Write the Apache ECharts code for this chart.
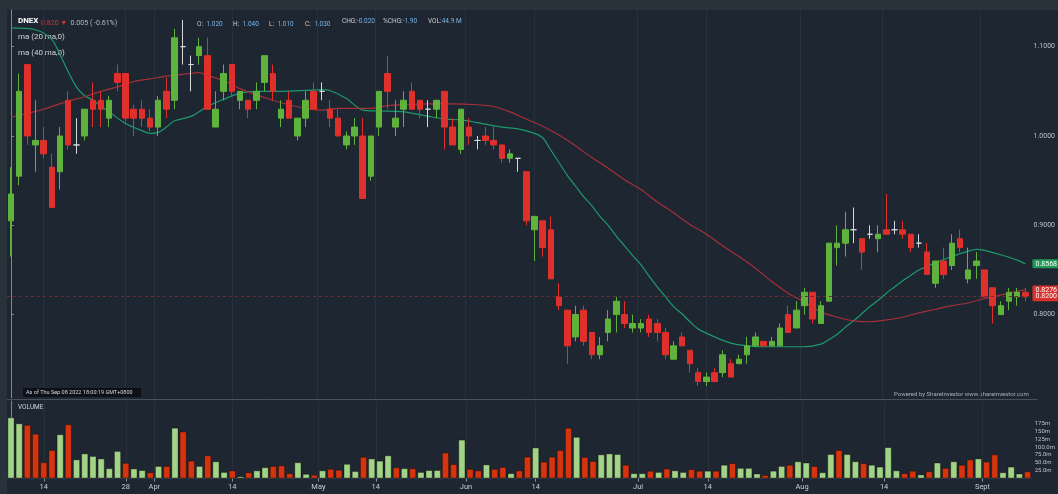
<!DOCTYPE html>
<html>
<head>
<meta charset="utf-8">
<title>DNEX</title>
<script src="https://cdn.jsdelivr.net/npm/echarts@6/dist/echarts.min.js"></script>
<style>
html, body { margin: 0; padding: 0; background: #1e2631; }
#main { width: 1058px; height: 494px; }
</style>
</head>
<body>
<div id="main"></div>
<script type="text/javascript">
// trading days, 2022
var dates = [
  '03-08','03-09','03-10','03-11','03-14','03-15','03-16','03-17','03-18','03-21','03-22','03-23','03-24','03-25','03-28','03-29','03-30','03-31',
  '04-01','04-04','04-05','04-06','04-07','04-08','04-11','04-12','04-13','04-14','04-15','04-18','04-20','04-21','04-22','04-25','04-26','04-27','04-28','04-29',
  '05-05','05-06','05-09','05-10','05-11','05-12','05-13','05-17','05-18','05-19','05-20','05-23','05-24','05-25','05-26','05-27','05-30','05-31',
  '06-01','06-02','06-03','06-07','06-08','06-09','06-10','06-13','06-14','06-15','06-16','06-17','06-20','06-21','06-22','06-23','06-24','06-27','06-28','06-29','06-30',
  '07-01','07-04','07-05','07-06','07-07','07-08','07-12','07-13','07-14','07-15','07-18','07-19','07-20','07-21','07-22','07-25','07-26','07-27','07-28','07-29',
  '08-01','08-02','08-03','08-04','08-05','08-08','08-09','08-10','08-11','08-12','08-15','08-16','08-17','08-18','08-19','08-22','08-23','08-24','08-25','08-26','08-29','08-30',
  '09-01','09-02','09-05','09-06','09-07','09-08'
];

// [open, close, low, high]
var candles = [
  [0.905,0.935,0.865,0.965],[0.955,1.050,0.945,1.070],[1.080,1.000,0.990,1.080],[0.990,0.995,0.960,1.040],[0.995,0.980,0.975,1.010],
  [0.965,0.920,0.920,0.980],[0.960,1.000,0.940,1.010],[1.040,0.990,0.985,1.050],[0.990,0.990,0.980,1.020],[1.000,1.030,0.995,1.030],
  [1.040,1.030,1.010,1.060],[1.040,1.030,1.010,1.050],[1.020,1.040,1.010,1.045],[1.070,1.060,1.050,1.080],[1.070,1.020,1.015,1.070],
  [1.030,1.020,1.000,1.035],[1.030,1.020,1.010,1.040],[1.020,1.010,1.005,1.030],[1.010,1.040,1.000,1.045],[1.050,1.030,1.020,1.065],
  [1.040,1.110,1.030,1.120],[1.100,1.100,1.080,1.130],[1.080,1.080,1.050,1.090],[1.090,1.100,1.080,1.110],[1.090,1.030,1.030,1.110],
  [1.010,1.030,1.010,1.050],[1.050,1.070,1.040,1.080],[1.080,1.050,1.045,1.080],[1.040,1.050,1.030,1.050],[1.040,1.030,1.020,1.040],
  [1.040,1.050,1.030,1.060],[1.060,1.090,1.050,1.090],[1.070,1.050,1.040,1.080],[1.020,1.030,1.010,1.040],[1.040,1.020,1.020,1.050],
  [1.000,1.020,0.995,1.020],[1.020,1.040,1.010,1.050],[1.050,1.030,1.030,1.060],[1.050,1.050,1.040,1.060],[1.030,1.020,1.010,1.040],
  [1.020,1.000,1.000,1.030],[0.990,1.000,0.985,1.005],[1.000,1.010,0.990,1.020],[1.000,0.930,0.930,1.020],[0.955,1.000,0.950,1.000],
  [1.010,1.050,1.000,1.050],[1.070,1.050,1.030,1.090],[1.010,1.020,1.000,1.040],[1.030,1.040,1.010,1.050],[1.050,1.030,1.030,1.060],
  [1.040,1.030,1.020,1.040],[1.030,1.030,1.010,1.040],[1.030,1.040,1.020,1.040],[1.050,1.010,0.985,1.050],[1.010,0.990,0.990,1.020],
  [0.985,1.030,0.980,1.030],[1.010,1.000,0.990,1.020],[0.995,0.995,0.985,1.000],[1.000,0.995,0.990,1.010],[0.995,0.990,0.985,1.010],
  [0.990,0.975,0.970,0.990],[0.975,0.980,0.970,0.985],[0.975,0.975,0.960,0.975],[0.960,0.905,0.900,0.960],[0.895,0.910,0.860,0.910],
  [0.905,0.875,0.865,0.905],[0.895,0.840,0.840,0.910],[0.820,0.810,0.805,0.835],[0.805,0.765,0.745,0.805],[0.775,0.800,0.770,0.810],
  [0.805,0.770,0.765,0.810],[0.780,0.755,0.750,0.780],[0.755,0.765,0.750,0.775],[0.780,0.795,0.770,0.805],[0.800,0.815,0.780,0.820],
  [0.800,0.790,0.785,0.815],[0.785,0.790,0.780,0.800],[0.785,0.790,0.780,0.795],[0.795,0.780,0.775,0.800],[0.790,0.780,0.770,0.795],
  [0.780,0.755,0.750,0.785],[0.750,0.765,0.750,0.770],[0.775,0.765,0.765,0.780],[0.760,0.745,0.735,0.760],[0.735,0.725,0.720,0.740],
  [0.725,0.730,0.720,0.735],[0.735,0.725,0.725,0.740],[0.735,0.755,0.730,0.760],[0.745,0.730,0.730,0.750],[0.745,0.750,0.745,0.755],
  [0.755,0.765,0.745,0.775],[0.765,0.775,0.765,0.780],[0.770,0.765,0.765,0.770],[0.765,0.770,0.765,0.775],[0.765,0.785,0.765,0.790],
  [0.800,0.780,0.780,0.810],[0.785,0.805,0.785,0.815],[0.810,0.825,0.800,0.830],[0.825,0.795,0.790,0.825],[0.790,0.810,0.790,0.815],
  [0.815,0.880,0.815,0.880],[0.875,0.880,0.855,0.900],[0.880,0.895,0.865,0.915],[0.895,0.895,0.880,0.920],[0.885,0.870,0.850,0.885],
  [0.890,0.890,0.885,0.900],[0.885,0.890,0.870,0.900],[0.895,0.890,0.890,0.935],[0.895,0.895,0.890,0.905],[0.895,0.890,0.885,0.905],
  [0.890,0.875,0.870,0.890],[0.880,0.880,0.875,0.890],[0.870,0.845,0.845,0.880],[0.835,0.860,0.830,0.860],[0.860,0.845,0.840,0.875],
  [0.855,0.880,0.850,0.890],[0.885,0.875,0.870,0.895],[0.840,0.850,0.835,0.875],[0.855,0.860,0.840,0.870],[0.850,0.820,0.820,0.850],
  [0.830,0.810,0.790,0.830],[0.800,0.810,0.800,0.815],[0.815,0.825,0.805,0.830],[0.820,0.825,0.810,0.830],[0.825,0.820,0.815,0.830]
];

// volume in millions, and bar colour (1 = green, 0 = red)
var volumes = [
  195,176,171,143,52,91,141,173,61,80, 72,64,33,88,50,32,27,20,40,40,
  162,150,57,40,74,55,21,26,7,20, 26,36,40,42,17,52,15,12,26,31,
  28,47,24,69,64,57,74,36,33,33, 21,27,27,83,46,124,31,26,45,31,
  37,17,26,70,99,54,70,91,162,133, 69,56,77,80,78,44,17,17,25,21,
  32,26,21,30,25,25,25,44,49,34, 34,16,11,25,40,44,55,51,40,20,
  78,91,78,55,49,44,38,100,26,17, 25,13,23,51,34,55,44,61,64,54,
  77,20,38,16,23
];
var volUp = [
  1,1,0,0,0,0,1,0,1,1, 1,1,1,1,0,1,1,0,1,0,
  1,0,0,1,0,1,1,0,1,0, 1,1,0,0,0,1,1,0,1,0,
  0,1,1,0,1,1,1,0,1,0, 1,1,1,0,0,1,0,0,1,0,
  0,1,0,0,1,0,0,0,0,1, 0,0,1,1,1,0,1,1,0,1,
  0,1,1,0,0,1,0,1,0,1, 1,1,0,1,1,0,1,1,0,1,
  1,0,1,1,0,1,1,1,1,0, 0,1,0,1,0,1,0,0,1,0,
  0,1,1,1,0
];

// moving averages: [day index, value]
var ma20 = [
  [0,1.121],[3,1.119],[5,1.108],[6,1.091],[7,1.072],[8,1.055],[9,1.045],[10,1.040],[12,1.027],[14,1.014],
  [16,1.006],[17,1.003],[18,1.004],[19,1.010],[20,1.017],[22,1.022],[24,1.033],[26,1.041],[28,1.048],[30,1.050],
  [33,1.050],[36,1.051],[38,1.052],[39,1.051],[41,1.042],[43,1.029],[45,1.028],[48,1.027],[51,1.022],[53,1.019],
  [55,1.018],[57,1.015],[60,1.010],[62,1.008],[64,1.003],[65,0.998],[66,0.984],[67,0.970],[68,0.956],[69,0.944],
  [70,0.932],[71,0.922],[72,0.910],[73,0.900],[74,0.888],[75,0.877],[76,0.866],[77,0.856],[78,0.843],[79,0.831],
  [80,0.820],[81,0.809],[82,0.801],[83,0.792],[84,0.784],[86,0.775],[88,0.768],[90,0.765],[92,0.764],[95,0.764],
  [97,0.764],[99,0.767],[100,0.772],[101,0.778],[102,0.786],[103,0.793],[104,0.801],[105,0.809],[106,0.816],[107,0.824],
  [108,0.831],[109,0.838],[110,0.844],[111,0.850],[113,0.858],[115,0.865],[117,0.871],[118,0.873],[119,0.872],[121,0.867],
  [123,0.861],[124,0.8568]
];
var ma40 = [
  [0,1.021],[4,1.030],[7,1.039],[9,1.044],[11,1.050],[13,1.055],[15,1.061],[17,1.064],[19,1.067],[21,1.069],
  [23,1.071],[24,1.068],[26,1.062],[28,1.053],[30,1.046],[32,1.040],[34,1.035],[36,1.031],[38,1.029],[40,1.031],
  [42,1.031],[44,1.031],[46,1.034],[48,1.035],[51,1.036],[54,1.036],[57,1.035],[59,1.033],[61,1.027],[63,1.019],
  [65,1.011],[67,1.001],[69,0.989],[71,0.976],[73,0.964],[75,0.951],[77,0.940],[79,0.926],[81,0.914],[83,0.901],
  [85,0.890],[87,0.877],[89,0.865],[91,0.852],[93,0.837],[95,0.824],[97,0.814],[99,0.803],[101,0.797],[103,0.793],
  [105,0.792],[107,0.794],[109,0.797],[111,0.802],[113,0.806],[115,0.810],[117,0.813],[119,0.818],[121,0.822],[123,0.826],
  [124,0.8276]
];

var tickDays = ['03-14','03-28','04-01','04-14','05-01','05-14','06-01','06-14','07-01','07-14','08-01','08-14','09-01'];
var tickLabels = ['14','28','Apr','14','May','14','Jun','14','Jul','14','Aug','14','Sept'];
var priceTicks = [0.8, 0.9, 1.0, 1.1];
var volTicks = [25, 50, 75, 100, 125, 150, 175];

var GREEN = '#5fb33c', RED = '#e0302c', DOJI = '#d4d8dc';
var VGREEN = '#a3d386', VRED = '#d5340e';
var FONT = 'Roboto, sans-serif';

// month labels sit on the boundary before the first trading day,
// mid-month labels on the bar when it is a trading day
var tickPos = tickDays.map(function (d, k) {
  var i = 0;
  while (i < dates.length && dates[i] < d) i++;
  var isMonth = isNaN(+tickLabels[k]);
  return (isMonth || dates[i] !== d) ? i - 0.5 : i;
});

var candleData = candles.map(function (c) {
  if (c[0] === c[1]) {
    return { value: c, itemStyle: { color: DOJI, color0: DOJI, borderColor: DOJI, borderColor0: DOJI } };
  }
  return c;
});
var volData = volumes.map(function (v, i) {
  return { value: v, itemStyle: { color: volUp[i] ? VGREEN : VRED } };
});
var lastClose = candles[candles.length - 1][1];
var lastMa20 = ma20[ma20.length - 1][1];
var lastMa40 = ma40[ma40.length - 1][1];

// price tag on the right of the plot for a horizontal level
function tagLine(val, bg, lineStyle) {
  return {
    silent: true, symbol: ['none', 'none'], precision: 4,
    lineStyle: lineStyle || { color: 'rgba(0,0,0,0)', width: 0 },
    label: {
      show: true, position: 'end', distance: 3,
      formatter: function () { return val.toFixed(4); },
      backgroundColor: bg, color: '#ffffff', fontSize: 7, fontFamily: FONT,
      padding: [1, 3, 1, 3], borderRadius: 1
    },
    data: [{ yAxis: val }]
  };
}

var myChart = echarts.init(document.getElementById('main'));

var option = {
  backgroundColor: '#1e2631',
  animation: false,
  textStyle: { fontFamily: FONT },
  grid: [
    { left: 6.875, right: 19.875, top: 10, height: 388 },
    { left: 6.875, right: 19.875, top: 401, height: 77.5 }
  ],
  xAxis: [
    { type: 'category', gridIndex: 0, data: dates, show: false },
    { type: 'category', gridIndex: 1, data: dates, show: false },
    {
      type: 'value', gridIndex: 0, position: 'bottom', min: -0.5, max: dates.length - 0.5,
      axisLine: { show: false }, axisLabel: { show: false },
      axisTick: { show: false, customValues: tickPos },
      splitLine: { show: true, lineStyle: { color: '#27303b', width: 1 } }
    },
    {
      type: 'value', gridIndex: 1, position: 'bottom', min: -0.5, max: dates.length - 0.5,
      axisLine: { show: true, lineStyle: { color: '#36404b' } },
      axisTick: { show: true, customValues: tickPos, length: 3, lineStyle: { color: '#8c939b' } },
      axisLabel: {
        customValues: tickPos, color: '#c6cbd0', fontSize: 7.5, margin: 5,
        formatter: function (v) { var k = tickPos.indexOf(v); return k < 0 ? '' : tickLabels[k]; }
      },
      splitLine: { show: true, lineStyle: { color: '#27303b', width: 1 } }
    }
  ],
  yAxis: [
    {
      type: 'value', gridIndex: 0, position: 'right', min: 0.7066, max: 1.1411,
      axisLine: { show: true, lineStyle: { color: '#7f878f' } },
      axisTick: { show: true, customValues: priceTicks, length: 3, lineStyle: { color: '#7f878f' } },
      axisLabel: {
        customValues: priceTicks, color: '#bcc1c7', fontSize: 7, margin: 4,
        formatter: function (v) { return v.toFixed(4); }
      },
      splitLine: { show: false }
    },
    {
      type: 'value', gridIndex: 1, position: 'right', min: 0, max: 247,
      axisLine: { show: true, lineStyle: { color: '#7f878f' } },
      axisTick: { show: true, customValues: volTicks, length: 3, lineStyle: { color: '#7f878f' } },
      axisLabel: {
        customValues: volTicks, color: '#bcc1c7', fontSize: 6, margin: 3,
        formatter: function (v) { return v > 100 ? v + 'm' : v.toFixed(1) + 'm'; }
      },
      splitLine: { show: false }
    }
  ],
  series: [
    {
      name: 'ma20', type: 'line', xAxisIndex: 0, yAxisIndex: 0, data: ma20,
      smooth: 0.3, symbol: 'none', z: 2,
      lineStyle: { color: '#1c9a6c', width: 1.2 },
      markLine: tagLine(lastMa20, '#1f9a55')
    },
    {
      name: 'ma40', type: 'line', xAxisIndex: 0, yAxisIndex: 0, data: ma40,
      smooth: 0.3, symbol: 'none', z: 2,
      lineStyle: { color: '#a3303b', width: 1.2 },
      markLine: tagLine(lastMa40, '#d8312c')
    },
    {
      name: 'DNEX', type: 'candlestick', xAxisIndex: 0, yAxisIndex: 0, data: candleData,
      barWidth: 6, z: 3,
      itemStyle: { color: GREEN, color0: RED, borderColor: GREEN, borderColor0: RED, borderWidth: 1 },
      markLine: tagLine(lastClose, '#d8312c', { color: '#74292e', type: [3, 3], width: 1 })
    },
    {
      name: 'Volume', type: 'bar', xAxisIndex: 1, yAxisIndex: 1, data: volData,
      barWidth: '88%',
      itemStyle: { borderColor: 'rgba(0,0,0,0.35)', borderWidth: 1 }
    }
  ],
  graphic: [
    { type: 'rect', silent: true, z: -1, shape: { x: 0, y: 0, width: 1058, height: 10 }, style: { fill: '#29313b' } },
    { type: 'rect', silent: true, z: -1, shape: { x: 0, y: 0, width: 7, height: 494 }, style: { fill: '#29313b' } },
    { type: 'line', silent: true, shape: { x1: 7, y1: 399.5, x2: 1038, y2: 399.5 }, style: { stroke: '#47525e', lineWidth: 1 } },
    { type: 'text', left: 18, top: 17, style: { text: 'DNEX', fill: '#ffffff', font: 'bold 8px ' + FONT } },
    { type: 'text', left: 41, top: 17.5, style: {
      text: '{r|0.820 \u25BC} {g|0.005 ( -0.61%)}',
      rich: { r: { fill: '#e0302c', font: '7px ' + FONT }, g: { fill: '#b8bdc3', font: '7px ' + FONT } }
    } },
    { type: 'text', left: 197, top: 18, style: { text: '{l|O:} {v|1.020}', rich: { l: { fill: '#c7ccd2', font: '6.5px ' + FONT }, v: { fill: '#79b4e4', font: '6.5px ' + FONT } } } },
    { type: 'text', left: 233, top: 18, style: { text: '{l|H:} {v|1.040}', rich: { l: { fill: '#c7ccd2', font: '6.5px ' + FONT }, v: { fill: '#79b4e4', font: '6.5px ' + FONT } } } },
    { type: 'text', left: 269, top: 18, style: { text: '{l|L:} {v|1.010}', rich: { l: { fill: '#c7ccd2', font: '6.5px ' + FONT }, v: { fill: '#79b4e4', font: '6.5px ' + FONT } } } },
    { type: 'text', left: 305, top: 18, style: { text: '{l|C:} {v|1.030}', rich: { l: { fill: '#c7ccd2', font: '6.5px ' + FONT }, v: { fill: '#79b4e4', font: '6.5px ' + FONT } } } },
    { type: 'text', left: 342, top: 18, style: { text: '{l|CHG:}{v|-0.020}', rich: { l: { fill: '#c7ccd2', font: '6.5px ' + FONT }, v: { fill: '#79b4e4', font: '6.5px ' + FONT } } } },
    { type: 'text', left: 383, top: 18, style: { text: '{l|%CHG:}{v|-1.90}', rich: { l: { fill: '#c7ccd2', font: '6.5px ' + FONT }, v: { fill: '#79b4e4', font: '6.5px ' + FONT } } } },
    { type: 'text', left: 428, top: 18, style: { text: '{l|VOL:}{v|44.9 M}', rich: { l: { fill: '#c7ccd2', font: '6.5px ' + FONT }, v: { fill: '#79b4e4', font: '6.5px ' + FONT } } } },
    { type: 'text', left: 18, top: 33, style: { text: 'ma (20,ma,0)', fill: '#cfd3d8', font: '8px ' + FONT } },
    { type: 'text', left: 18, top: 49, style: { text: 'ma (40,ma,0)', fill: '#cfd3d8', font: '8px ' + FONT } },
    { type: 'rect', silent: true, z: 10, shape: { x: 23, y: 388, width: 118, height: 9 }, style: { fill: 'rgba(8,10,14,0.75)' } },
    { type: 'text', z: 11, left: 26, top: 389.5, style: { text: 'As of Thu Sep 08 2022 18:00:19 GMT+0800', fill: '#d3d7db', font: '5.5px ' + FONT } },
    { type: 'text', left: 894, top: 391.5, style: { text: 'Powered by ShareInvestor www.shareinvestor.com', fill: '#a9afb6', font: '6px ' + FONT } },
    { type: 'text', left: 18, top: 403.5, style: { text: 'VOLUME', fill: '#cfd3d8', font: '6.5px ' + FONT } }
  ]
};

myChart.setOption(option);
</script>
</body>
</html>
